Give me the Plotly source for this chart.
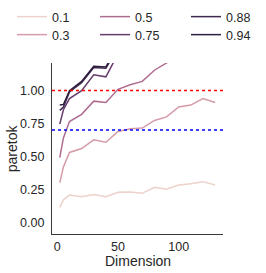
import numpy as np
import plotly.graph_objects as go

dimension = [2, 5, 10, 20, 30, 40, 50, 60, 70, 80, 90, 100, 110, 120, 130]
hue_levels = [0.1, 0.3, 0.5, 0.75, 0.88, 0.94]
labels = ["0.1", "0.3", "0.5", "0.75", "0.88", "0.94"]

paretok_01 = [0.112, 0.17, 0.206, 0.193, 0.211, 0.193, 0.227, 0.229, 0.219, 0.265, 0.25, 0.282, 0.292, 0.308, 0.282]
paretok_03 = [0.30, 0.42, 0.53, 0.56, 0.626, 0.608, 0.69, 0.71, 0.715, 0.773, 0.80, 0.876, 0.89, 0.94, 0.91]
paretok_05 = [0.49, 0.64, 0.765, 0.82, 0.92, 0.91, 1.01, 1.045, 1.07, 1.155, 1.21, 1.28, 1.31, 1.36, 1.34]
paretok_075 = [0.745, 0.855, 0.94, 1.0, 1.12, 1.105, 1.28, 1.35, 1.42, 1.5, 1.55, 1.6, 1.66, 1.7, 1.72]
paretok_088 = [0.85, 0.875, 0.99, 1.06, 1.175, 1.17, 1.33, 1.42, 1.5, 1.58, 1.64, 1.7, 1.76, 1.8, 1.82]
paretok_094 = [0.89, 0.895, 1.0, 1.07, 1.185, 1.18, 1.34, 1.44, 1.52, 1.6, 1.66, 1.72, 1.78, 1.83, 1.85]
series = [paretok_01, paretok_03, paretok_05, paretok_075, paretok_088, paretok_094]

ref_lines = [1.0, 0.7]
ref_colors = ["red", "blue"]

x_title = "Dimension"
y_title = "paretok"


def cubehelix(t, start=0.0, rot=0.4, gamma=1.0, hue=0.8, light=0.85, dark=0.15):
    x = light + (dark - light) * t
    xg = x ** gamma
    a = hue * xg * (1 - xg) / 2
    phi = 2 * np.pi * (start / 3 + rot * x)
    r = xg + a * (-0.14861 * np.cos(phi) + 1.78277 * np.sin(phi))
    g = xg + a * (-0.29227 * np.cos(phi) - 0.90649 * np.sin(phi))
    b = xg + a * (1.97294 * np.cos(phi))
    c = [int(round(255 * min(max(v, 0), 1))) for v in (r, g, b)]
    return "rgb(%d,%d,%d)" % tuple(c)


W, H = 266, 273
hmin, hmax = min(hue_levels), max(hue_levels)
legend_ids = ["legend", "legend2", "legend3", "legend4", "legend5", "legend6"]
# column-major legend grid (col, row) in pixels
legend_px_x = [12, 12, 95, 95, 186, 186]
legend_px_top = [2, 20, 2, 20, 2, 20]

fig = go.Figure()
for i, (h, lab, ys) in enumerate(zip(hue_levels, labels, series)):
    fig.add_trace(go.Scatter(
        x=dimension, y=ys, mode="lines", name=lab,
        line=dict(color=cubehelix((h - hmin) / (hmax - hmin)), width=1.5),
        legend=legend_ids[i],
    ))

for yv, col in zip(ref_lines, ref_colors):
    fig.add_shape(type="line", xref="paper", x0=0, x1=1, yref="y", y0=yv, y1=yv,
                  line=dict(color=col, width=1.5, dash="dot"))

font_family = "Liberation Sans, Arial"
axis_common = dict(
    showline=True, linecolor="#3a3a3a", linewidth=1.2, showgrid=False, zeroline=False,
    ticks="outside", tickcolor="rgba(0,0,0,0)",
    tickfont=dict(family=font_family, size=12.5, color="#262626"),
)

legends = {}
for i, lid in enumerate(legend_ids):
    legends[lid] = dict(orientation="v", xref="container", yref="container",
                        x=legend_px_x[i] / W, xanchor="left",
                        y=1 - legend_px_top[i] / H, yanchor="top",
                        font=dict(family=font_family, size=12.5, color="#262626"),
                        bgcolor="rgba(0,0,0,0)", tracegroupgap=0)

ml, mr, mt, mb = 52, 43, 63, 39
pw, ph = W - ml - mr, H - mt - mb

fig.update_layout(
    width=W, height=H,
    margin=dict(l=ml, r=mr, t=mt, b=mb, autoexpand=False),
    paper_bgcolor="white", plot_bgcolor="white",
    font=dict(family=font_family, color="#262626"),
    xaxis=dict(range=[-4.4, 136.5], tickvals=[0, 50, 100], ticklen=1, **axis_common),
    yaxis=dict(range=[-0.09, 1.21], tickvals=[0, 0.25, 0.5, 0.75, 1.0], tickformat=".2f",
               ticklen=4, **axis_common),
    showlegend=True,
    annotations=[
        dict(text=x_title, xref="paper", yref="paper", x=0.5, y=-(261 - (mt + ph)) / ph,
             xanchor="center", yanchor="middle", showarrow=False,
             font=dict(family=font_family, size=14, color="#262626")),
        dict(text=y_title, xref="paper", yref="paper", x=(11.7 - ml) / pw, y=0.5,
             xanchor="center", yanchor="middle", showarrow=False, textangle=-90,
             font=dict(family=font_family, size=14, color="#262626")),
    ],
    **legends,
)

fig.write_html("out.html", config={"displayModeBar": False},
               post_script="document.body.style.margin='0';")
